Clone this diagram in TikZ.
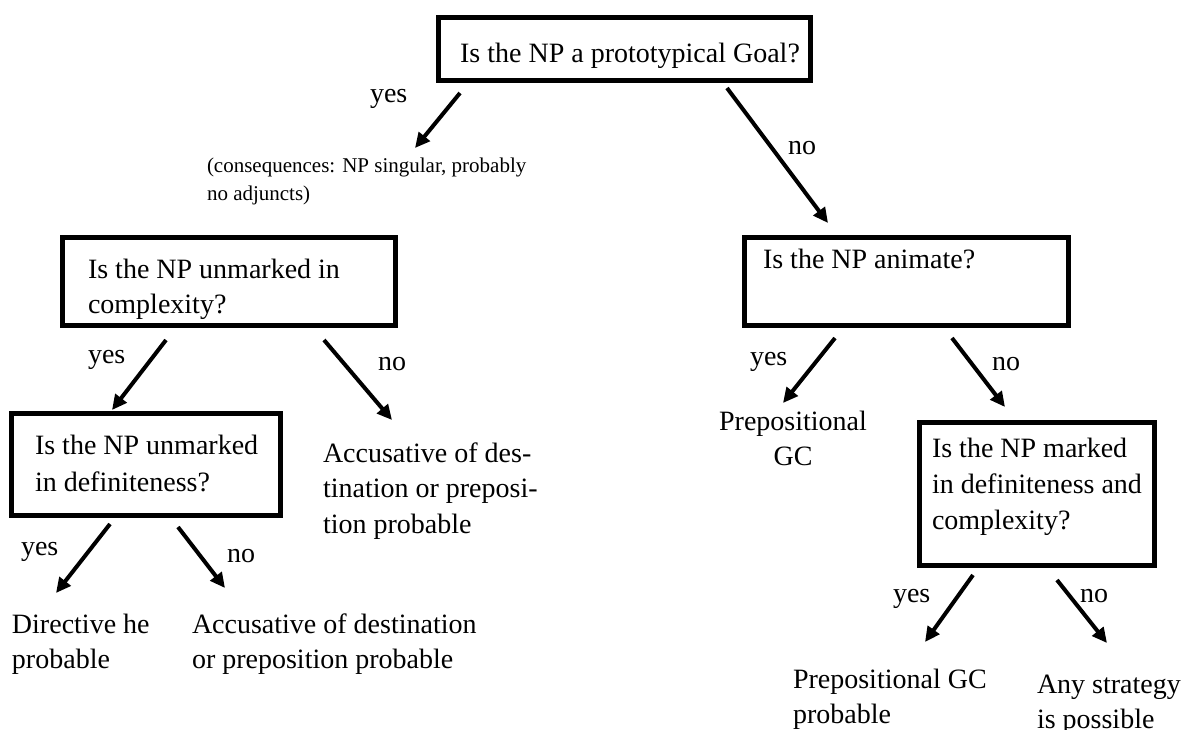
\documentclass[tikz,border=0pt]{standalone}
\usepackage{fontspec}
\setmainfont{Liberation Serif}
\usetikzlibrary{arrows.meta}

% Multi-line nodes are placed by the baseline of their last line.
\tikzset{
  qbox/.style={draw, line width=5pt, inner sep=0pt, outer sep=0pt, anchor=north west},
  txt/.style={inner sep=0pt, outer sep=0pt, anchor=base west, align=left,
              font=\fontsize{28}{36}\selectfont},
  small/.style={inner sep=0pt, outer sep=0pt, anchor=base west, align=left,
              font=\fontsize{21}{28}\selectfont},
  branch/.style={line width=4pt, -{Triangle[length=15pt,width=14pt]}},
}

\begin{document}
\begin{tikzpicture}[x=1pt, y=-1pt]
  \useasboundingbox (0,0) rectangle (1184,729);
  \fill[white] (0,0) rectangle (1184,729);

  % question boxes
  \node[qbox, minimum width=372.5pt, minimum height=63pt]  (q1) at (438,17.5) {};
  \node[qbox, minimum width=332.7pt, minimum height=88pt]  (q2) at (62.8,237.5) {};
  \node[qbox, minimum width=268.7pt, minimum height=101.5pt] (q3) at (11.8,413.5) {};
  \node[qbox, minimum width=324.3pt, minimum height=88pt]  (q4) at (744.2,237.5) {};
  \node[qbox, minimum width=235pt,   minimum height=143pt] (q5) at (919.5,422.5) {};

  % question texts
  \node[txt, anchor=base] (q1t) at (630,62) {Is the NP a prototypical Goal?};
  \node[txt, font=\fontsize{28}{35}\selectfont] (q2t) at (88,313) {Is the NP unmarked in\\complexity?};
  \node[txt, font=\fontsize{28}{37}\selectfont] (q3t) at (35,491) {Is the NP unmarked\\in definiteness?};
  \node[txt] (q4t) at (763,268) {Is the NP animate?};
  \node[txt] (q5t) at (932,529) {Is the NP marked\\in definiteness and\\complexity?};

  % consequences note
  \node[small] (cons) at (207,200) {(consequences: NP singular, probably\\no adjuncts)};

  % outcomes
  \node[txt, font=\fontsize{28}{35.5}\selectfont] (acc1) at (323,533) {Accusative of des-\\tination or preposi-\\tion probable};
  \node[txt, font=\fontsize{28}{35}\selectfont] (dir)  at (12,668)  {Directive he\\probable};
  \node[txt, font=\fontsize{28}{35}\selectfont] (acc2) at (192,668) {Accusative of destination\\or preposition probable};
  \node[txt, anchor=base, align=center, font=\fontsize{28}{35}\selectfont] (prep) at (793,465) {Prepositional\\GC};
  \node[txt, font=\fontsize{28}{35}\selectfont] (prepgc) at (793,723) {Prepositional GC\\probable};
  \node[txt, font=\fontsize{28}{35}\selectfont] (any)  at (1037,728) {Any strategy\\is possible};

  % branch labels
  \node[txt] (y1) at (370,102) {yes};
  \node[txt] (n1) at (788,154) {no};
  \node[txt] (y2) at (88,363)  {yes};
  \node[txt] (n2) at (378,370) {no};
  \node[txt] (y3) at (21,555)  {yes};
  \node[txt] (n3) at (227,562) {no};
  \node[txt] (y4) at (750,365) {yes};
  \node[txt] (n4) at (992,370) {no};
  \node[txt] (y5) at (893,602) {yes};
  \node[txt] (n5) at (1080,602) {no};

  % branches
  \draw[branch] ([shift={(22,12.5)}]q1.south west)   -- ([shift={(208,-52)}]cons.base west);
  \draw[branch] ([shift={(289,7.5)}]q1.south west)   -- ([shift={(83.8,-14.5)}]q4.north west);
  \draw[branch] ([shift={(103.2,14.5)}]q2.south west) -- ([shift={(100.2,-3.5)}]q3.north west);
  \draw[branch] ([shift={(261.2,14.5)}]q2.south west) -- ([shift={(69,-113)}]acc1.base west);
  \draw[branch] ([shift={(98.2,9)}]q3.south west)     -- ([shift={(44,-75)}]dir.base west);
  \draw[branch] ([shift={(166.2,12)}]q3.south west)   -- ([shift={(33,-80)}]acc2.base west);
  \draw[branch] ([shift={(90.8,12.5)}]q4.south west)  -- ([shift={(-10,-62)}]prep.base);
  \draw[branch] ([shift={(207.8,12.5)}]q4.south west) -- ([shift={(85.5,-15.5)}]q5.north west);
  \draw[branch] ([shift={(53.5,9.5)}]q5.south west)   -- ([shift={(132,-81)}]prepgc.base west);
  \draw[branch] ([shift={(137.5,14.5)}]q5.south west) -- ([shift={(70,-85)}]any.base west);
\end{tikzpicture}
\end{document}
